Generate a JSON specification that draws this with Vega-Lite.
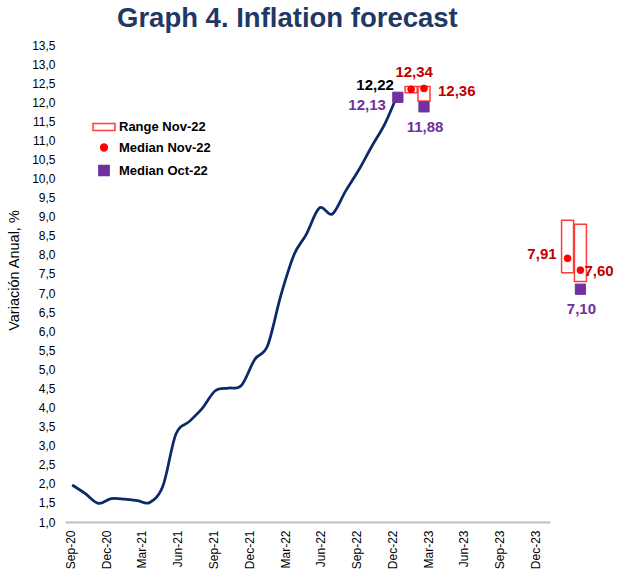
{
  "$schema": "https://vega.github.io/schema/vega-lite/v6.json",
  "width": 535,
  "height": 477,
  "autosize": {"type": "none"},
  "padding": {"left": 65, "top": 45, "right": 17, "bottom": 56},
  "config": {
    "locale": {"number": {"decimal": ",", "thousands": ".", "grouping": [3], "currency": ["$", ""]}},
    "numberFormat": ".1f",
    "font": "Liberation Sans",
    "view": {"stroke": null},
    "axis": {"grid": false},
    "axisY": {
      "tickCount": 25,
      "labelOverlap": false,
      "domain": false,
      "ticks": false,
      "labelPadding": 10,
      "labelFontSize": 12,
      "labelColor": "#000000",
      "titleFontSize": 14.5,
      "titleFontWeight": "normal",
      "titleColor": "#000000",
      "titleBaseline": "middle",
      "titleX": -51,
      "titleY": 225
    },
    "legend": {
      "orient": "none",
      "legendX": 27,
      "legendY": 70,
      "padding": 0,
      "labelFont": "Liberation Sans",
      "labelFontSize": 13,
      "labelFontWeight": "bold",
      "labelColor": "#000000",
      "labelOffset": 3,
      "rowPadding": 7,
      "symbolStrokeWidth": 1.5
    }
  },
  "title": {
    "text": "Graph 4. Inflation forecast",
    "font": "Liberation Sans",
    "fontSize": 27.5,
    "fontWeight": "bold",
    "color": "#1F3864",
    "anchor": "start",
    "frame": "group",
    "dx": 52,
    "offset": -15,
    "baseline": "alphabetic"
  },
  "datasets": {
    "axisMonths": [
      {"label": "Sep-20"}, {"label": "Oct-20"}, {"label": "Nov-20"}, {"label": "Dec-20"},
      {"label": "Jan-21"}, {"label": "Feb-21"}, {"label": "Mar-21"}, {"label": "Apr-21"},
      {"label": "May-21"}, {"label": "Jun-21"}, {"label": "Jul-21"}, {"label": "Aug-21"},
      {"label": "Sep-21"}, {"label": "Oct-21"}, {"label": "Nov-21"}, {"label": "Dec-21"},
      {"label": "Jan-22"}, {"label": "Feb-22"}, {"label": "Mar-22"}, {"label": "Apr-22"},
      {"label": "May-22"}, {"label": "Jun-22"}, {"label": "Jul-22"}, {"label": "Aug-22"},
      {"label": "Sep-22"}, {"label": "Oct-22"}, {"label": "Nov-22"}, {"label": "Dec-22"},
      {"label": "Jan-23"}, {"label": "Feb-23"}, {"label": "Mar-23"}, {"label": "Apr-23"},
      {"label": "May-23"}, {"label": "Jun-23"}, {"label": "Jul-23"}, {"label": "Aug-23"},
      {"label": "Sep-23"}, {"label": "Oct-23"}, {"label": "Nov-23"}, {"label": "Dec-23"}
    ],
    "actual": [
      {"month": "2020-09-01", "value": 1.97},
      {"month": "2020-10-01", "value": 1.75},
      {"month": "2020-11-01", "value": 1.49},
      {"month": "2020-12-01", "value": 1.61},
      {"month": "2021-01-01", "value": 1.60},
      {"month": "2021-02-01", "value": 1.56},
      {"month": "2021-03-01", "value": 1.51},
      {"month": "2021-04-01", "value": 1.95},
      {"month": "2021-05-01", "value": 3.30},
      {"month": "2021-06-01", "value": 3.63},
      {"month": "2021-07-01", "value": 3.97},
      {"month": "2021-08-01", "value": 4.44},
      {"month": "2021-09-01", "value": 4.51},
      {"month": "2021-10-01", "value": 4.58},
      {"month": "2021-11-01", "value": 5.26},
      {"month": "2021-12-01", "value": 5.62},
      {"month": "2022-01-01", "value": 6.94},
      {"month": "2022-02-01", "value": 8.01},
      {"month": "2022-03-01", "value": 8.53},
      {"month": "2022-04-01", "value": 9.23},
      {"month": "2022-05-01", "value": 9.07},
      {"month": "2022-06-01", "value": 9.67},
      {"month": "2022-07-01", "value": 10.21},
      {"month": "2022-08-01", "value": 10.84},
      {"month": "2022-09-01", "value": 11.44},
      {"month": "2022-10-01", "value": 12.22}
    ],
    "range": [
      {"survey": "Range Nov-22", "month": "2022-11-01", "low": 12.25, "high": 12.41},
      {"survey": "Range Nov-22", "month": "2022-12-01", "low": 12.03, "high": 12.41},
      {"survey": "Range Nov-22", "month": "2023-11-01", "low": 7.53, "high": 8.91},
      {"survey": "Range Nov-22", "month": "2023-12-01", "low": 7.30, "high": 8.80}
    ],
    "medians": [
      {"survey": "Median Nov-22", "month": "2022-11-01", "value": 12.34},
      {"survey": "Median Nov-22", "month": "2022-12-01", "value": 12.36},
      {"survey": "Median Nov-22", "month": "2023-11-01", "value": 7.91},
      {"survey": "Median Nov-22", "month": "2023-12-01", "value": 7.60},
      {"survey": "Median Oct-22", "month": "2022-10-01", "value": 12.13},
      {"survey": "Median Oct-22", "month": "2022-12-01", "value": 11.88},
      {"survey": "Median Oct-22", "month": "2023-12-01", "value": 7.10}
    ]
  },
  "layer": [
    {
      "data": {"name": "axisMonths"},
      "mark": {"type": "tick", "opacity": 0},
      "encoding": {
        "x": {
          "field": "label",
          "type": "ordinal",
          "sort": null,
          "scale": {"type": "band", "range": [0, 485], "paddingInner": 0, "paddingOuter": 0.344, "align": 0},
          "axis": {
            "title": null,
            "values": ["Sep-20", "Dec-20", "Mar-21", "Jun-21", "Sep-21", "Dec-21", "Mar-22", "Jun-22", "Sep-22", "Dec-22", "Mar-23", "Jun-23", "Sep-23", "Dec-23"],
            "labelAngle": -90,
            "ticks": false,
            "domainColor": "#BFBFBF",
            "domainWidth": 2,
            "labelFontSize": 12,
            "labelColor": "#000000",
            "labelPadding": 8
          }
        }
      }
    },
    {
      "encoding": {
        "x": {
          "field": "month",
          "type": "temporal",
          "scale": {"domain": [{"year": 2020, "month": 8, "date": 27, "utc": true}, {"year": 2024, "month": 1, "date": 4, "utc": true}]},
          "axis": null
        }
      },
      "layer": [
        {
          "data": {"name": "actual"},
          "mark": {"type": "line", "interpolate": "cardinal", "color": "#0C2A6A", "strokeWidth": 2.75},
          "encoding": {
            "y": {
              "field": "value",
              "type": "quantitative",
              "title": "Variación Anual, %",
              "scale": {"domain": [1, 13.5], "nice": false, "zero": false}
            }
          }
        },
        {
          "data": {"name": "range"},
          "mark": {"type": "bar", "width": 12, "strokeWidth": 1.5},
          "encoding": {
            "y": {"field": "low", "type": "quantitative", "title": "Variación Anual, %"},
            "y2": {"field": "high"},
            "fill": {"field": "survey", "type": "nominal", "title": null,
              "scale": {"domain": ["Range Nov-22", "Median Nov-22", "Median Oct-22"], "range": ["#FFFFFF", "#FF0000", "#7030A0"]}},
            "stroke": {"field": "survey", "type": "nominal", "title": null,
              "scale": {"domain": ["Range Nov-22", "Median Nov-22", "Median Oct-22"], "range": ["#FF3B3B", "#FF0000", "#7030A0"]}}
          }
        },
        {
          "data": {"name": "medians"},
          "mark": {"type": "point", "filled": true, "opacity": 1, "strokeWidth": 1},
          "encoding": {
            "y": {"field": "value", "type": "quantitative", "title": "Variación Anual, %"},
            "fill": {"field": "survey", "type": "nominal", "title": null},
            "stroke": {"field": "survey", "type": "nominal", "title": null},
            "shape": {"field": "survey", "type": "nominal", "title": null,
              "scale": {"domain": ["Range Nov-22", "Median Nov-22", "Median Oct-22"], "range": ["M-1,-0.32H1V0.32H-1Z", "circle", "square"]}},
            "size": {"field": "survey", "type": "nominal", "title": null,
              "scale": {"type": "ordinal", "domain": ["Range Nov-22", "Median Nov-22", "Median Oct-22"], "range": [484, 46, 105]}}
          }
        },
        {
          "data": {"name": "actual"},
          "transform": [{"filter": "utcyear(datum.month) === 2022 && utcmonth(datum.month) === 9"}],
          "mark": {"type": "text", "align": "right", "baseline": "middle", "dx": -4, "dy": -9, "fontSize": 15, "fontWeight": "bold", "color": "#000000"},
          "encoding": {
            "y": {"field": "value", "type": "quantitative", "title": "Variación Anual, %"},
            "text": {"field": "value", "type": "quantitative", "format": ".2f"}
          }
        },
        {
          "data": {"name": "medians"},
          "transform": [{"filter": "datum.survey === 'Median Nov-22' && utcyear(datum.month) === 2022 && utcmonth(datum.month) === 10"}],
          "mark": {"type": "text", "align": "center", "baseline": "middle", "dx": 3, "dy": -17, "fontSize": 15, "fontWeight": "bold", "color": "#C00000"},
          "encoding": {
            "y": {"field": "value", "type": "quantitative", "title": "Variación Anual, %"},
            "text": {"field": "value", "type": "quantitative", "format": ".2f"}
          }
        },
        {
          "data": {"name": "medians"},
          "transform": [{"filter": "datum.survey === 'Median Nov-22' && utcyear(datum.month) === 2022 && utcmonth(datum.month) === 11"}],
          "mark": {"type": "text", "align": "left", "baseline": "middle", "dx": 14, "dy": 2, "fontSize": 15, "fontWeight": "bold", "color": "#C00000"},
          "encoding": {
            "y": {"field": "value", "type": "quantitative", "title": "Variación Anual, %"},
            "text": {"field": "value", "type": "quantitative", "format": ".2f"}
          }
        },
        {
          "data": {"name": "medians"},
          "transform": [{"filter": "datum.survey === 'Median Nov-22' && utcyear(datum.month) === 2023 && utcmonth(datum.month) === 10"}],
          "mark": {"type": "text", "align": "right", "baseline": "middle", "dx": -11, "dy": -4, "fontSize": 15, "fontWeight": "bold", "color": "#C00000"},
          "encoding": {
            "y": {"field": "value", "type": "quantitative", "title": "Variación Anual, %"},
            "text": {"field": "value", "type": "quantitative", "format": ".2f"}
          }
        },
        {
          "data": {"name": "medians"},
          "transform": [{"filter": "datum.survey === 'Median Nov-22' && utcyear(datum.month) === 2023 && utcmonth(datum.month) === 11"}],
          "mark": {"type": "text", "align": "left", "baseline": "middle", "dx": 4, "dy": 1, "fontSize": 15, "fontWeight": "bold", "color": "#C00000"},
          "encoding": {
            "y": {"field": "value", "type": "quantitative", "title": "Variación Anual, %"},
            "text": {"field": "value", "type": "quantitative", "format": ".2f"}
          }
        },
        {
          "data": {"name": "medians"},
          "transform": [{"filter": "datum.survey === 'Median Oct-22' && utcmonth(datum.month) === 9"}],
          "mark": {"type": "text", "align": "right", "baseline": "middle", "dx": -12, "dy": 8, "fontSize": 15, "fontWeight": "bold", "color": "#7030A0"},
          "encoding": {
            "y": {"field": "value", "type": "quantitative", "title": "Variación Anual, %"},
            "text": {"field": "value", "type": "quantitative", "format": ".2f"}
          }
        },
        {
          "data": {"name": "medians"},
          "transform": [{"filter": "datum.survey === 'Median Oct-22' && utcmonth(datum.month) === 11"}],
          "mark": {"type": "text", "align": "center", "baseline": "middle", "dx": 1, "dy": 20, "fontSize": 15, "fontWeight": "bold", "color": "#7030A0"},
          "encoding": {
            "y": {"field": "value", "type": "quantitative", "title": "Variación Anual, %"},
            "text": {"field": "value", "type": "quantitative", "format": ".2f"}
          }
        }
      ]
    }
  ],
  "resolve": {"scale": {"x": "independent"}, "axis": {"x": "independent"}}
}
